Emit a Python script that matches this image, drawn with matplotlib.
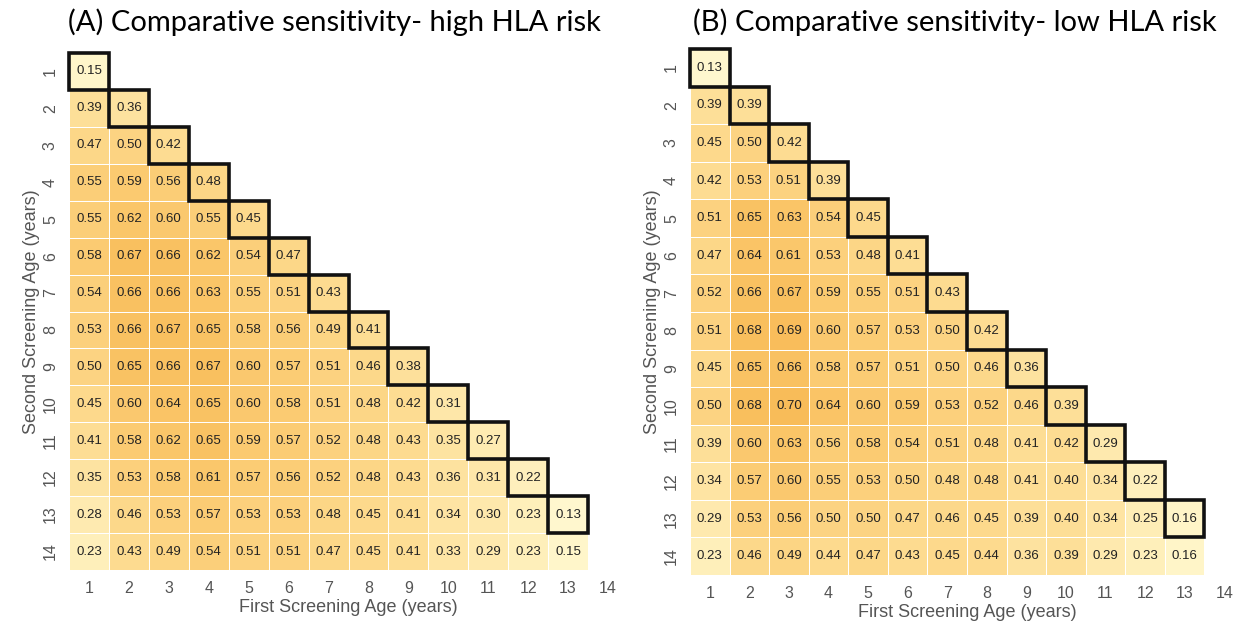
import numpy as np
import matplotlib
matplotlib.use("Agg")
import matplotlib.pyplot as plt
from matplotlib.colors import LinearSegmentedColormap
from matplotlib.patches import Rectangle

first_ages = list(range(1, 15))
second_ages = list(range(1, 15))

high_rows = [
    [0.15],
    [0.39, 0.36],
    [0.47, 0.50, 0.42],
    [0.55, 0.59, 0.56, 0.48],
    [0.55, 0.62, 0.60, 0.55, 0.45],
    [0.58, 0.67, 0.66, 0.62, 0.54, 0.47],
    [0.54, 0.66, 0.66, 0.63, 0.55, 0.51, 0.43],
    [0.53, 0.66, 0.67, 0.65, 0.58, 0.56, 0.49, 0.41],
    [0.50, 0.65, 0.66, 0.67, 0.60, 0.57, 0.51, 0.46, 0.38],
    [0.45, 0.60, 0.64, 0.65, 0.60, 0.58, 0.51, 0.48, 0.42, 0.31],
    [0.41, 0.58, 0.62, 0.65, 0.59, 0.57, 0.52, 0.48, 0.43, 0.35, 0.27],
    [0.35, 0.53, 0.58, 0.61, 0.57, 0.56, 0.52, 0.48, 0.43, 0.36, 0.31, 0.22],
    [0.28, 0.46, 0.53, 0.57, 0.53, 0.53, 0.48, 0.45, 0.41, 0.34, 0.30, 0.23, 0.13],
    [0.23, 0.43, 0.49, 0.54, 0.51, 0.51, 0.47, 0.45, 0.41, 0.33, 0.29, 0.23, 0.15],
]

low_rows = [
    [0.13],
    [0.39, 0.39],
    [0.45, 0.50, 0.42],
    [0.42, 0.53, 0.51, 0.39],
    [0.51, 0.65, 0.63, 0.54, 0.45],
    [0.47, 0.64, 0.61, 0.53, 0.48, 0.41],
    [0.52, 0.66, 0.67, 0.59, 0.55, 0.51, 0.43],
    [0.51, 0.68, 0.69, 0.60, 0.57, 0.53, 0.50, 0.42],
    [0.45, 0.65, 0.66, 0.58, 0.57, 0.51, 0.50, 0.46, 0.36],
    [0.50, 0.68, 0.70, 0.64, 0.60, 0.59, 0.53, 0.52, 0.46, 0.39],
    [0.39, 0.60, 0.63, 0.56, 0.58, 0.54, 0.51, 0.48, 0.41, 0.42, 0.29],
    [0.34, 0.57, 0.60, 0.55, 0.53, 0.50, 0.48, 0.48, 0.41, 0.40, 0.34, 0.22],
    [0.29, 0.53, 0.56, 0.50, 0.50, 0.47, 0.46, 0.45, 0.39, 0.40, 0.34, 0.25, 0.16],
    [0.23, 0.46, 0.49, 0.44, 0.47, 0.43, 0.45, 0.44, 0.36, 0.39, 0.29, 0.23, 0.16],
]

titles = ["(A) Comparative sensitivity- high HLA risk",
          "(B) Comparative sensitivity- low HLA risk"]

narrow = ["Liberation Sans Narrow", "Liberation Sans", "DejaVu Sans"]

cmap = LinearSegmentedColormap.from_list(
    "sens", ["#FFF8D0", "#FEEBB2", "#FDDC92", "#FBCC74", "#F8BA55"])


def to_matrix(rows):
    n = len(second_ages)
    m = np.full((n, len(first_ages)), np.nan)
    for r, vals in enumerate(rows):
        m[r, :len(vals)] = vals
    return m


fig = plt.figure(figsize=(12.44, 6.28), dpi=100)
W, H = 1244, 628
boxes = [(69, 53, 628, 570), (690, 49, 1244, 575)]
title_x = [68, 693]

for k, rows in enumerate([high_rows, low_rows]):
    x0, y0, x1, y1 = boxes[k]
    ax = fig.add_axes([x0 / W, (H - y1) / H, (x1 - x0) / W, (y1 - y0) / H])
    m = to_matrix(rows)
    xe = np.arange(0.5, len(first_ages) + 1, 1.0)
    ye = np.arange(0.5, len(second_ages) + 1, 1.0)
    ax.pcolormesh(xe, ye, np.ma.masked_invalid(m), cmap=cmap, vmin=0.12, vmax=0.72,
                  edgecolors="white", linewidth=0.6)
    for r, vals in enumerate(rows):
        for c, v in enumerate(vals):
            ax.text(first_ages[c], second_ages[r], f"{v:.2f}", ha="center", va="center",
                    fontsize=9.5, color="#222222", family=narrow)
    for i in range(13):
        ax.add_patch(Rectangle((first_ages[i] - 0.5, second_ages[i] - 0.5), 1, 1,
                               fill=False, ec="#111111", lw=2.6, zorder=5, clip_on=False))
    ax.set_xlim(0.5, 14.5)
    ax.set_ylim(14.5, 0.5)
    ax.set_xticks(first_ages)
    ax.set_yticks(second_ages)
    ax.set_xticklabels([str(a) for a in first_ages], family=narrow, fontsize=11.5, color="#555555")
    ax.set_yticklabels([str(a) for a in second_ages], family=narrow, fontsize=11.5, color="#555555",
                       rotation=90, va="center")
    ax.tick_params(length=0, pad=8)
    for s in ax.spines.values():
        s.set_visible(False)
    ax.set_xlabel("First Screening Age (years)", family=narrow, fontsize=13, color="#555555",
                  labelpad=2)
    ax.set_ylabel("Second Screening Age (years)", family=narrow, fontsize=13, color="#555555",
                  labelpad=2)
    fig.text(title_x[k] / W, 1 - 22 / H, titles[k], ha="left", va="center",
             fontsize=21, family=["Lato", "DejaVu Sans"], color="black")

fig.savefig("out.png", dpi=100)
